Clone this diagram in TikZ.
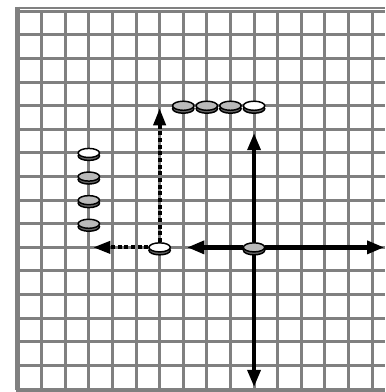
\documentclass[tikz,border=0pt]{standalone}
\usepackage{tikz}
\usetikzlibrary{shapes.geometric,arrows.meta,shadows,backgrounds}
\colorlet{gridGray}{black!50}
\colorlet{coinGray}{black!27}

\begin{document}
\begin{tikzpicture}[x=17.7pt, y=17.7pt,
        gridline/.style={draw=gridGray, line width=2.25pt},
        coin/.style={ellipse, draw=black, line width=1.1pt, inner sep=0pt,
            minimum width=16pt, minimum height=6.8pt,
            general shadow={draw=black, line width=1.1pt, fill=black!60, shadow yshift=-2.2pt}},
        moveArrow/.style={line width=3.3pt, -{Triangle[length=13pt, width=9.5pt]}},
        tryArrow/.style={line width=3pt, dash pattern=on 3pt off 2pt, -{Triangle[length=13pt, width=9pt]}}]
        \useasboundingbox (-0.763,-0.127) rectangle (15.55,16.48);
        % board
        \begin{scope}[on background layer]
            \draw[gridline] (0,0) grid[step=17.7pt] (15.55,16);
            \draw[gridline, line width=1.6pt] (-0.1,16.15) -- (15.55,16.15);
            \draw[gridline, line width=3.7pt] (-0.02,16.2) -- (-0.02,-0.05);
            \draw[gridline, line width=3pt] (-0.1,-0.06) -- (15.55,-0.06);
        \end{scope}
        % coins
        \node[coin, fill=white] (start) at (6,6) {};
        \node[coin, fill=coinGray] (hub) at (10,6) {};
        \node[coin, fill=white] (left4) at (3,10) {};
        \node[coin, fill=coinGray] (left3) at (3,9) {};
        \node[coin, fill=coinGray] (left2) at (3,8) {};
        \node[coin, fill=coinGray] (left1) at (3,7) {};
        \node[coin, fill=coinGray] (top1) at (7,12) {};
        \node[coin, fill=coinGray] (top2) at (8,12) {};
        \node[coin, fill=coinGray] (top3) at (9,12) {};
        \node[coin, fill=white] (top4) at (10,12) {};
        % arrow ends
        \coordinate (tryUp) at (6,11.9);
        \coordinate (tryLeft) at (3.18,6);
        \coordinate (hubUp) at (10,10.85);
        \coordinate (hubDown) at (10,0.08);
        \coordinate (hubLeft) at (7.16,6);
        \coordinate (hubRight) at (15.52,6);
        \begin{scope}[on background layer]
            \draw[tryArrow] (start) -- (tryUp);
            \draw[tryArrow] (start) -- (tryLeft);
            \draw[moveArrow] (hub) -- (hubUp);
            \draw[moveArrow] (hub) -- (hubDown);
            \draw[moveArrow] (hub) -- (hubLeft);
            \draw[moveArrow] (hub) -- (hubRight);
        \end{scope}
    \end{tikzpicture}
\end{document}
